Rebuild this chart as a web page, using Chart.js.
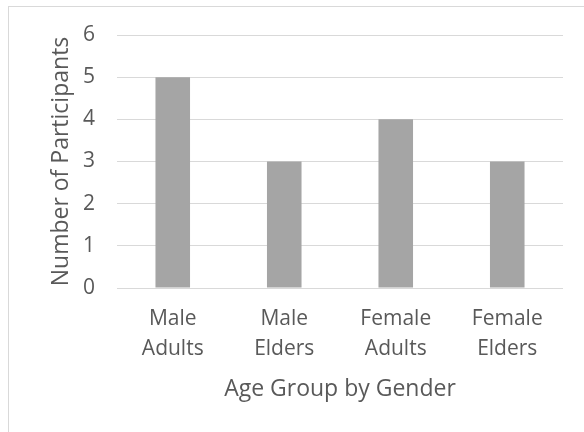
<!DOCTYPE html>
<html>
<head>
<meta charset="utf-8">
<script src="https://cdn.jsdelivr.net/npm/chart.js@4.4.1/dist/chart.umd.min.js"></script>
<style>
  html, body { margin: 0; padding: 0; background: #fff; overflow: hidden; }
  #frame {
    position: absolute; left: 8px; top: 6px; width: 640px; height: 480px;
    border: 1px solid #d9d9d9; box-sizing: border-box;
  }
  #wrap { position: absolute; left: 0; top: 0; width: 584px; height: 432px; }
</style>
</head>
<body>
<div id="frame"></div>
<div id="wrap"><canvas id="chart" width="584" height="432"></canvas></div>
<script>
const categories = [['Male', 'Adults'], ['Male', 'Elders'], ['Female', 'Adults'], ['Female', 'Elders']];
const participants = [5, 3, 4, 3];
const yTicks = [0, 1, 2, 3, 4, 5, 6];

const textColor = '#595959';
const fontFamily = '"Open Sans", "DejaVu Sans", sans-serif';

new Chart(document.querySelector('#chart'), {
  type: 'bar',
  data: {
    labels: categories,
    datasets: [{
      label: 'Number of Participants',
      data: participants,
      backgroundColor: '#a5a5a5',
      borderWidth: 0,
      barPercentage: 0.31,
      categoryPercentage: 1,
    }],
  },
  options: {
    responsive: false,
    animation: false,
    devicePixelRatio: 1,
    layout: { padding: { top: 35, right: 21, left: 0, bottom: 0 } },
    plugins: {
      legend: { display: false },
      tooltip: { enabled: false },
    },
    scales: {
      x: {
        grid: { display: false, drawTicks: false },
        border: { display: false },
        ticks: {
          color: textColor,
          padding: 16,
          font: { family: fontFamily, size: 21, lineHeight: 1.43 },
          maxRotation: 0,
        },
        title: {
          display: true,
          text: 'Age Group by Gender',
          color: textColor,
          font: { family: fontFamily, size: 23, lineHeight: 1.2 },
          padding: { top: 0, bottom: 29 },
        },
        afterFit: (scale) => { scale.height = 144; },
      },
      y: {
        min: yTicks[0],
        max: yTicks[yTicks.length - 1],
        afterBuildTicks: (scale) => { scale.ticks = yTicks.map((value) => ({ value })); },
        grid: { color: '#d9d9d9', lineWidth: 1, drawTicks: false },
        border: { display: false },
        ticks: {
          color: textColor,
          padding: 22,
          font: { family: fontFamily, size: 21 },
        },
        title: {
          display: true,
          text: 'Number of Participants',
          color: textColor,
          font: { family: fontFamily, size: 23, lineHeight: 1.2 },
          padding: { top: 48, bottom: 0 },
        },
        afterFit: (scale) => { scale.width = 117; },
      },
    },
  },
});
</script>
</body>
</html>
